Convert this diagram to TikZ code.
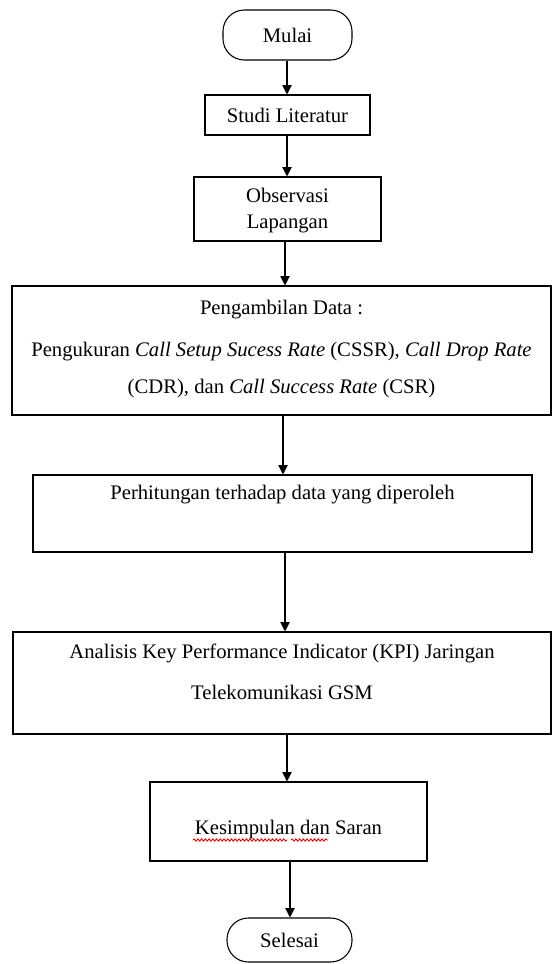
\documentclass[tikz,border=0pt]{standalone}
\usepackage{fontspec}
\setmainfont{Liberation Serif}
\usetikzlibrary{arrows.meta,decorations.pathmorphing}
\begin{document}
\begin{tikzpicture}[x=0.75pt,y=-0.75pt,
  box/.style={draw,line width=0.8pt,inner sep=0pt},
  term/.style={draw,line width=0.8pt,inner sep=0pt,rounded corners=16pt},
  txt/.style={inner sep=0pt,align=center,font=\fontsize{15.5}{21.5}\selectfont},
  arr/.style={line width=0.8pt,-{Triangle[length=7pt,width=7pt]}},
  squig/.style={red,line width=0.7pt,decorate,decoration={snake,amplitude=0.8pt,segment length=2.8pt}}]
\useasboundingbox[fill=white] (0,0) rectangle (552,964);
% boxes (pixel sizes * 0.75pt)
\node[term,minimum width=96.75pt,minimum height=37.5pt] (mulai) at (287.5,35) {};
\node[box,minimum width=123.75pt,minimum height=30pt] (studi) at (287.5,115) {};
\node[box,minimum width=140.25pt,minimum height=48pt] (obs) at (287.5,209) {};
\node[box,minimum width=404.25pt,minimum height=96.75pt] (peng) at (281.5,350.5) {};
\node[box,minimum width=374.25pt,minimum height=57.75pt] (perh) at (282.5,513.5) {};
\node[box,minimum width=403.5pt,minimum height=76.5pt] (anal) at (282,683) {};
\node[box,minimum width=207.75pt,minimum height=59.25pt] (kes) at (288.5,821.5) {};
\node[term,minimum width=93.75pt,minimum height=33pt] (sel) at (289.5,940) {};
% texts
\node[txt] (tmulai) at (mulai) {Mulai};
\node[txt] (tstudi) at (studi) {Studi Literatur};
\node[txt] (tobs1) at (287.5,195) {Observasi};
\node[txt] (tobs2) at (287.5,224) {Lapangan};
\node[txt] (tpeng1) at (281.5,310) {Pengambilan Data :};
\node[txt] (tpeng2) at (281.5,352) {Pengukuran \textit{Call Setup Sucess Rate} (CSSR), \textit{Call Drop Rate}};
\node[txt] (tpeng3) at (281.5,389) {(CDR), dan \textit{Call Success Rate} (CSR)};
\node[txt] (tperh) at (282.5,495) {Perhitungan terhadap data yang diperoleh};
\node[txt] (tanal1) at (282,653) {Analisis Key Performance Indicator (KPI) Jaringan};
\node[txt] (tanal2) at (282,692) {Telekomunikasi GSM};
\node[txt] (tkes) at (288.5,830) {Kesimpulan dan Saran};
\node[txt] (tsel) at (sel) {Selesai};
% spell-check underline
\draw[squig] (193,840) -- (287,840);
\draw[squig] (291,840) -- (328,840);
% arrows
\draw[arr] (mulai.south -| 287,0) -- (studi.north -| 287,0);
\draw[arr] (studi.south -| 287,0) -- (obs.north -| 287,0);
\draw[arr] (obs.south -| 285,0) -- (peng.north -| 285,0);
\draw[arr] (peng.south -| 283,0) -- (perh.north -| 283,0);
\draw[arr] (perh.south -| 285,0) -- (anal.north -| 285,0);
\draw[arr] (anal.south -| 287,0) -- (kes.north -| 287,0);
\draw[arr] (kes.south -| 290,0) -- (sel.north -| 290,0);
\end{tikzpicture}
\end{document}
